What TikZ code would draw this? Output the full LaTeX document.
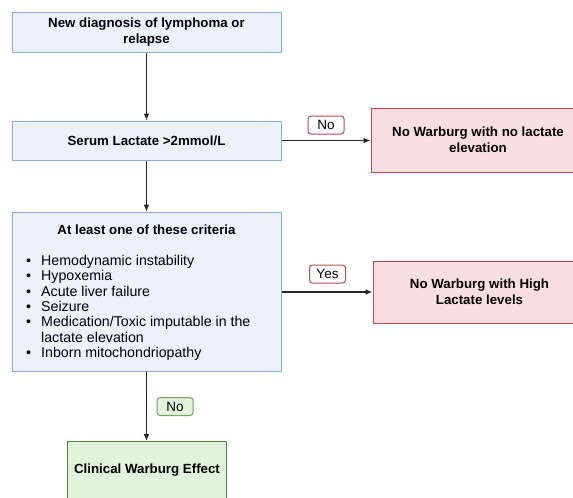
\documentclass[tikz,border=0pt]{standalone}
\usepackage{fontspec}
\setmainfont{Liberation Sans}
\usetikzlibrary{arrows.meta}
\definecolor{bfill}{HTML}{EBF2FC}
\definecolor{bdraw}{HTML}{8CAAE0}
\definecolor{rfill}{HTML}{F9DFE0}
\definecolor{rdraw}{HTML}{B54A55}
\definecolor{gfill}{HTML}{E2F3DB}
\definecolor{gdraw}{HTML}{4F8A3C}
\definecolor{arr}{HTML}{262626}
\tikzset{
  box/.style={draw, line width=1pt, inner sep=2pt, align=center, font=\fontsize{13.3}{16}\selectfont\bfseries},
  bluebox/.style={box, fill=bfill, draw=bdraw},
  redbox/.style={box, fill=rfill, draw=rdraw},
  greenbox/.style={box, fill=gfill, draw=gdraw},
  lab/.style={draw, line width=1pt, rounded corners=3pt, minimum width=36pt, minimum height=18pt, inner sep=1pt, font=\fontsize{13.5}{15}\selectfont},
  conn/.style={draw=arr, line width=1.5pt, -{Latex[length=7pt,width=6pt]}},
}
\begin{document}
\begin{tikzpicture}[x=1pt,y=-1pt]
\useasboundingbox (0,0) rectangle (573,498);
\node[bluebox, minimum width=269pt, minimum height=40pt] (b1) at (146.5,32) {New diagnosis of lymphoma or\\relapse};
\node[bluebox, minimum width=269pt, minimum height=39pt] (b2) at (146.5,140.5) {Serum Lactate >2mmol/L};
\node[bluebox, minimum width=269pt, minimum height=159pt] (b3) at (146.5,291.5) {};
\node[font=\fontsize{13.3}{15}\selectfont\bfseries, inner sep=0pt] (b3t) at (146.5,230) {At least one of these criteria};
\node[anchor=north west, align=left, inner sep=0pt, font=\fontsize{14.2}{15.35}\selectfont] (b3l) at (25,255) {%
\makebox[16pt][l]{\hspace{1pt}\textbullet}Hemodynamic instability\\
\makebox[16pt][l]{\hspace{1pt}\textbullet}Hypoxemia\\
\makebox[16pt][l]{\hspace{1pt}\textbullet}Acute liver failure\\
\makebox[16pt][l]{\hspace{1pt}\textbullet}Seizure\\
\makebox[16pt][l]{\hspace{1pt}\textbullet}Medication/Toxic imputable in the\\
\hspace*{16pt}lactate elevation\\
\makebox[16pt][l]{\hspace{1pt}\textbullet}Inborn mitochondriopathy};
\node[redbox, minimum width=214pt, minimum height=64pt] (r1) at (478,140) {No Warburg with no lactate\\elevation};
\node[redbox, minimum width=213pt, minimum height=62pt] (r2) at (479.5,292) {No Warburg with High\\Lactate levels};
\node[greenbox, minimum width=159pt, minimum height=62pt, anchor=north] (g1) at (146.5,441) {};
\node[font=\fontsize{13.3}{15}\selectfont\bfseries, inner sep=0pt] (g1t) at (147,470) {Clinical Warburg Effect};
\draw[conn] (b1) -- (b2);
\draw[conn] (b2) -- (b3);
\draw[conn] (b2.east) -- (b2.east -| r1.west);
\draw[conn] (b3.east |- r2.west) -- (r2.west);
\draw[conn] (b3) -- (g1);
\node[lab, draw=rdraw, fill=white] (l1) at (326,125) {No};
\node[lab, draw=rdraw, fill=white] (l2) at (327.5,274) {Yes};
\node[lab, draw=gdraw!80, fill=gfill] (l3) at (175,406.5) {No};
\end{tikzpicture}
\end{document}
